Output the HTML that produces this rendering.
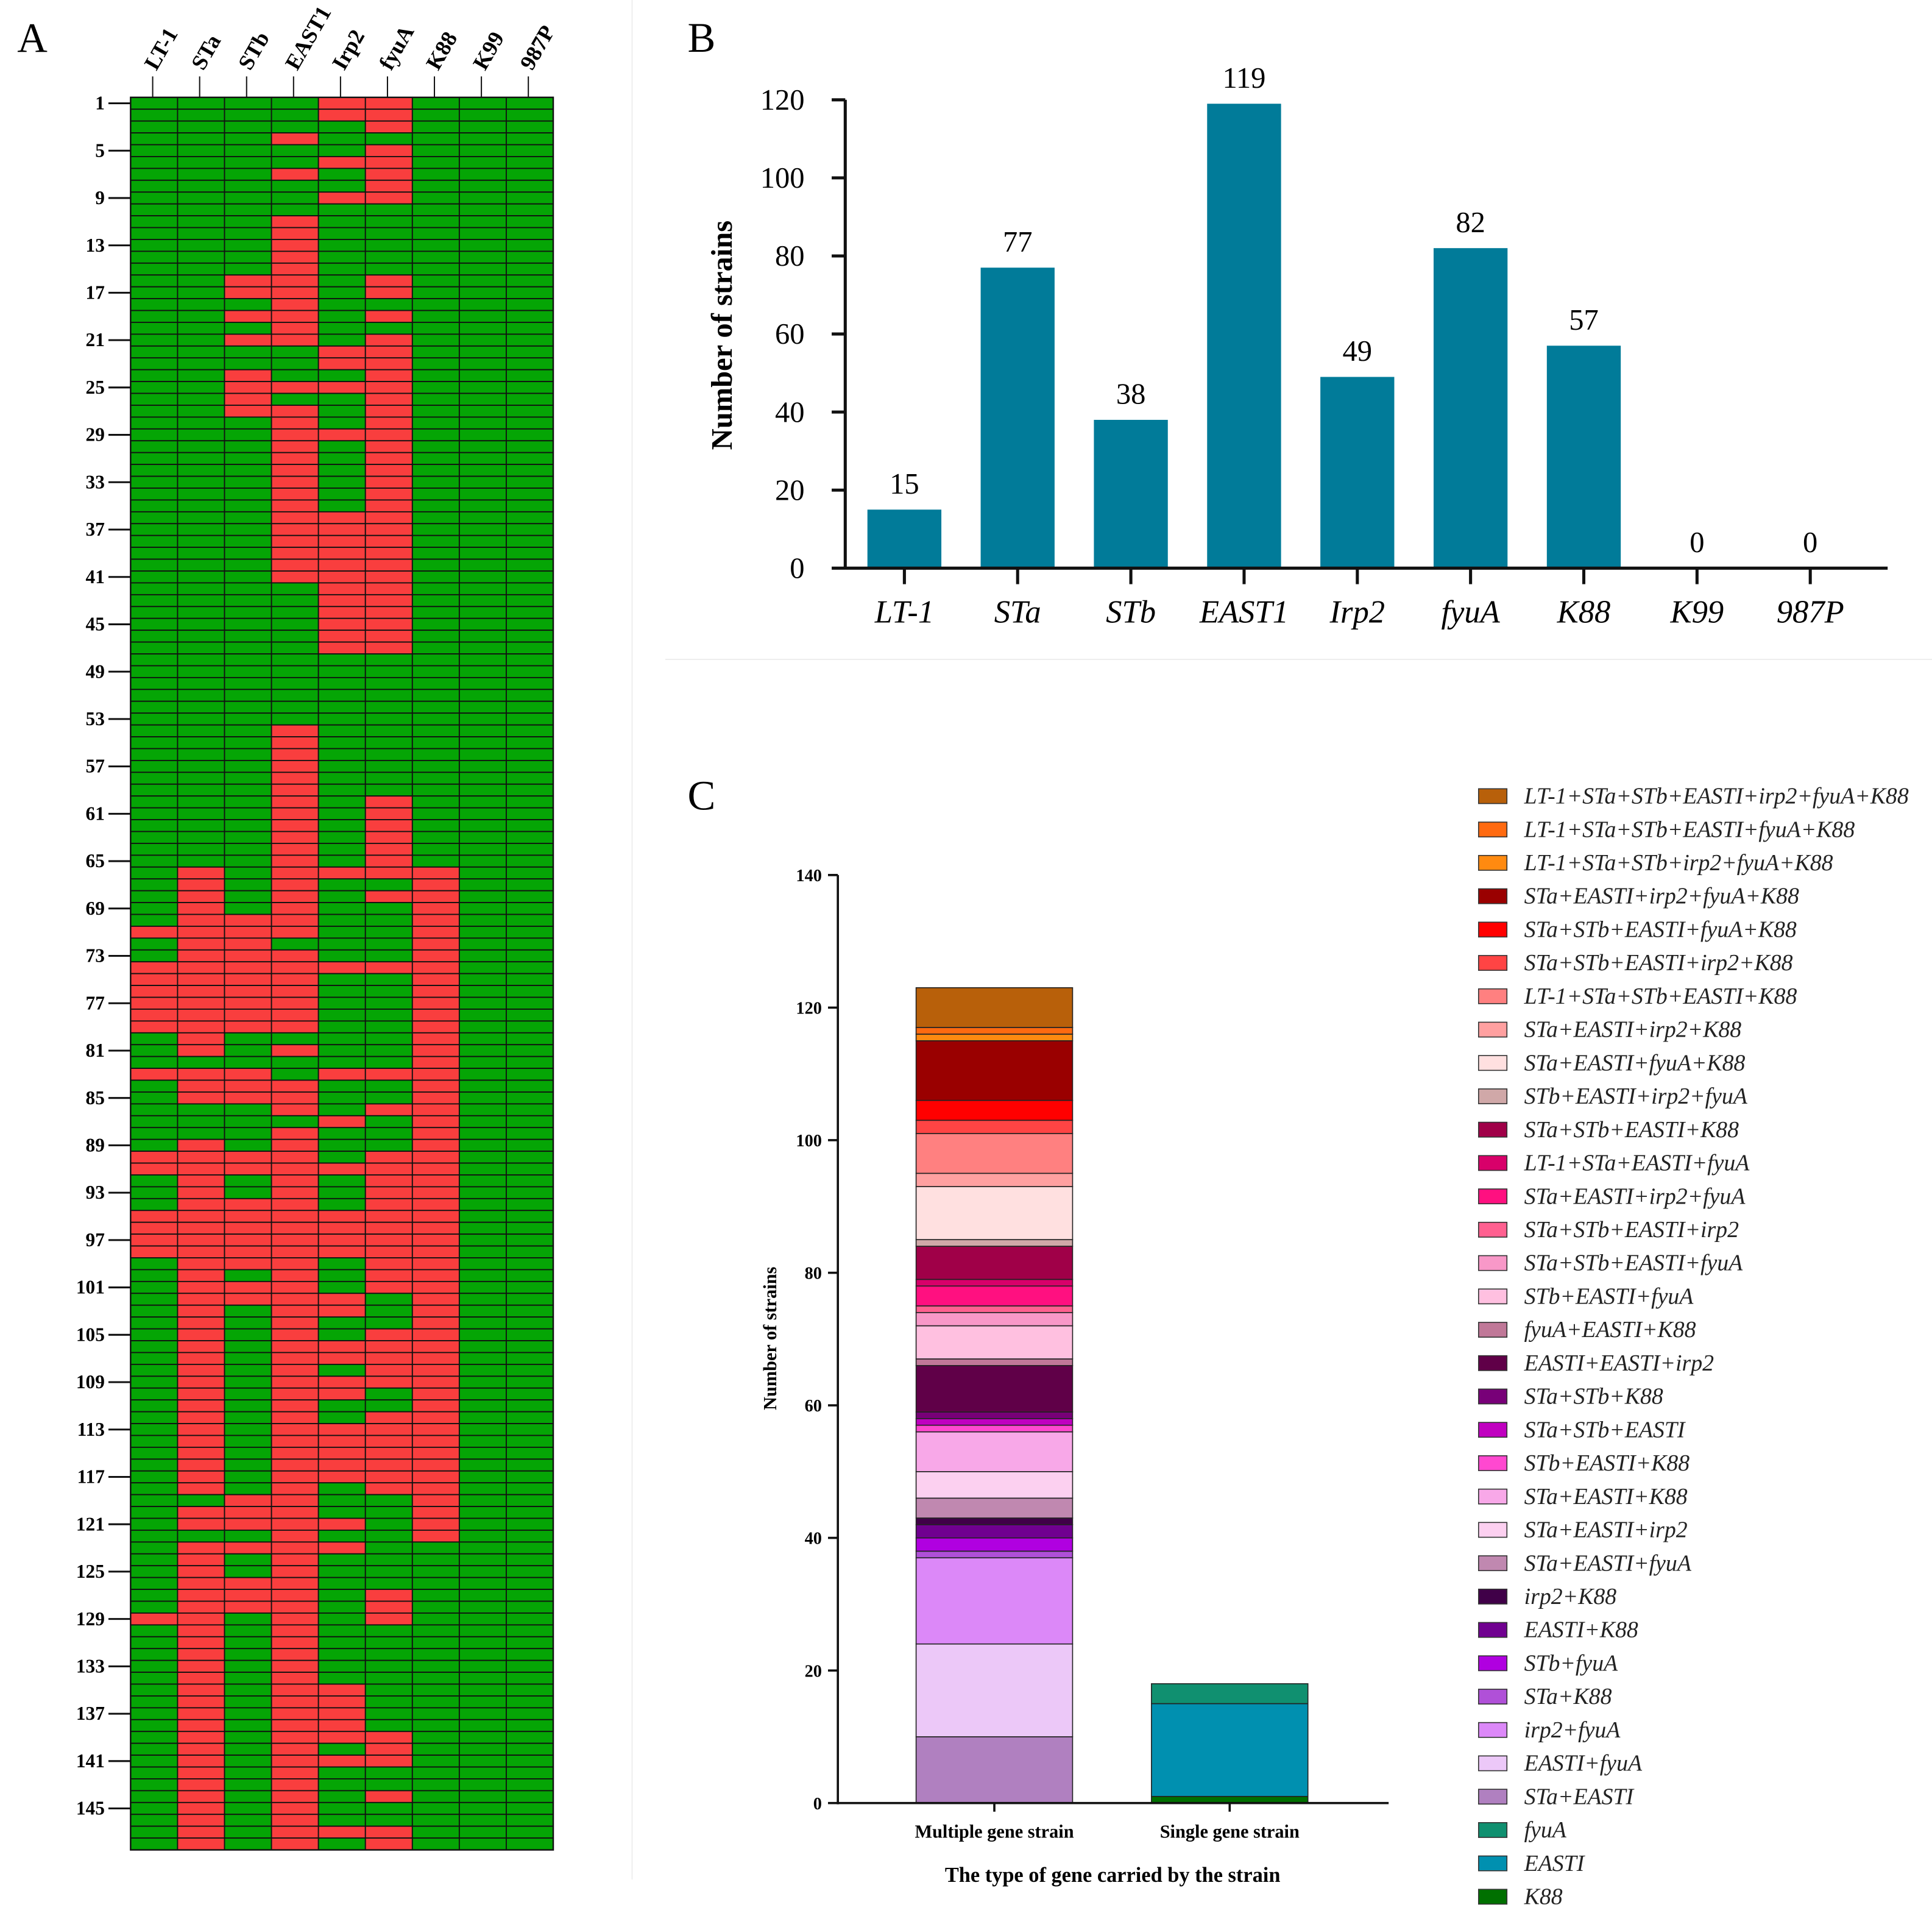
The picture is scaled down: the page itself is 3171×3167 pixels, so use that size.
<!DOCTYPE html>
<html><head><meta charset="utf-8"><style>
html,body{margin:0;padding:0;background:#fff}
svg{display:block}
text{font-family:"Liberation Serif",serif}
</style></head><body>
<svg id="fig" xmlns="http://www.w3.org/2000/svg" width="3171" height="3167" viewBox="0 0 1568 1566" preserveAspectRatio="none">
<line x1="513" y1="0" x2="513" y2="1525" stroke="#eeeeee" stroke-width="1"/>
<line x1="540" y1="535" x2="1568" y2="535" stroke="#eeeeee" stroke-width="1"/>
<text x="14" y="42" font-size="34">A</text>
<text x="558" y="42" font-size="34">B</text>
<text x="558" y="657" font-size="34">C</text>
<g id="heat"></g>
<g id="barB"></g>
<g id="stackC"></g>
</svg>
<script>
// ---------- Panel A data ----------
const heatGenes = ["LT-1","STa","STb","EAST1","Irp2","fyuA","K88","K99","987P"];
const heatRows = [
"000011000","000011000","000001000","000100000","000001000","000011000","000101000","000001000","000011000","000000000",
"000100000","000100000","000100000","000100000","000100000","001101000","001101000","000100000","001101000","000100000",
"001101000","000011000","000011000","001001000","001111000","001001000","001101000","000101000","000111000","000101000",
"000101000","000101000","000101000","000101000","000101000","000111000","000111000","000111000","000111000","000111000",
"000111000","000011000","000011000","000011000","000011000","000011000","000011000","000000000","000000000","000000000",
"000000000","000000000","000000000","000100000","000100000","000100000","000100000","000100000","000100000","000101000",
"000101000","000101000","000101000","000101000","000101000","010111100","010100100","010101100","010100100","011100100",
"111100100","011000100","011100100","111111100","111100100","111100100","111100100","111100100","111100100","010000100",
"010100100","000000100","111011100","011100100","011100100","000101100","000010100","000100100","010100100","111101100",
"111111100","010101100","010101100","011101100","111111100","111111100","111111100","111111100","011101100","010101100",
"011101100","011110100","010110100","010100100","010101100","010111100","010111100","010101100","010111100","010110100",
"010100100","010101100","010111100","010111100","010111100","010111100","010111100","010101100","001100100","011100100",
"011110100","000100100","011110000","010100000","010100000","011100000","011101000","011101000","110101000","010100000",
"010100000","010100000","010100000","010100000","010110000","010110000","010110000","010110000","010111000","010101000",
"010111000","010100000","010100000","010101000","010100000","010100000","010111000","010101000"];

// ---------- Panel B data ----------
const geneNames = ["LT-1","STa","STb","EAST1","Irp2","fyuA","K88","K99","987P"];
const geneCounts = [15,77,38,119,49,82,57,0,0];
const yTicksB = [0,20,40,60,80,100,120];

// ---------- Panel C data ----------
const stackCategories = ["Multiple gene strain","Single gene strain"];
const comboNames = ["LT-1+STa+STb+EASTI+irp2+fyuA+K88","LT-1+STa+STb+EASTI+fyuA+K88","LT-1+STa+STb+irp2+fyuA+K88","STa+EASTI+irp2+fyuA+K88","STa+STb+EASTI+fyuA+K88","STa+STb+EASTI+irp2+K88","LT-1+STa+STb+EASTI+K88","STa+EASTI+irp2+K88","STa+EASTI+fyuA+K88","STb+EASTI+irp2+fyuA","STa+STb+EASTI+K88","LT-1+STa+EASTI+fyuA","STa+EASTI+irp2+fyuA","STa+STb+EASTI+irp2","STa+STb+EASTI+fyuA","STb+EASTI+fyuA","fyuA+EASTI+K88","EASTI+EASTI+irp2","STa+STb+K88","STa+STb+EASTI","STb+EASTI+K88","STa+EASTI+K88","STa+EASTI+irp2","STa+EASTI+fyuA","irp2+K88","EASTI+K88","STb+fyuA","STa+K88","irp2+fyuA","EASTI+fyuA","STa+EASTI","fyuA","EASTI","K88"];
const multipleValues = [6,1,1,9,3,2,6,2,8,1,5,1,3,1,2,5,1,7,1,1,1,6,4,3,1,2,2,1,13,14,10,0,0,0];
const singleValues = [0,0,0,0,0,0,0,0,0,0,0,0,0,0,0,0,0,0,0,0,0,0,0,0,0,0,0,0,0,0,0,3,14,1];
const comboColors = ["#b8600a","#ff6a10","#ff8a10","#9a0000","#ff0000","#ff4444","#ff8080","#ffa0a0","#ffe0e0","#d0a8a8","#a00048","#d8006a","#ff1080","#ff6090","#f898c8","#ffc0e0","#c07898","#600048","#780078","#c000c0","#ff48d0","#f8a8e8","#fcd0f0","#c088b0","#400048","#700090","#b000e0","#b050d8","#dc88f8","#ecc8f8","#b080c0","#109070","#0090b0","#007000"];
const yTicksC = [0,20,40,60,80,100,120,140];

const NS = "http://www.w3.org/2000/svg";
function mk(tag, attrs, parent, txt){
  const e = document.createElementNS(NS, tag);
  for (const k in attrs) e.setAttribute(k, attrs[k]);
  if (txt !== undefined) e.textContent = txt;
  parent.appendChild(e);
  return e;
}

// ===== Panel A =====
(function(){
  const g = document.getElementById('heat');
  const x0 = 106, x1 = 449, y0 = 79, y1 = 1501;
  const cw = (x1 - x0) / heatGenes.length;
  const rh = (y1 - y0) / heatRows.length;
  const colX = i => x0 + i * cw;
  const rowY = r => y0 + r * rh;
  heatRows.forEach((row, r) => {
    for (let c = 0; c < heatGenes.length; c++) {
      const on = row[c] === '1';
      const cell = mk('rect', {x: colX(c), y: rowY(r), width: cw, height: rh, fill: on ? '#f93e3e' : '#05a505', stroke: '#111', 'stroke-width': 0.9}, g);
      
      
    }
  });
  const frame = mk('rect', {x: x0, y: y0, width: x1 - x0, height: y1 - y0, fill: 'none', stroke: '#111', 'stroke-width': 1.2}, g);
  
  
  heatGenes.forEach((name, c) => {
    const tx = colX(c) + cw * 0.47;
    const tk = mk('line', {x1: tx, y1: 62, x2: tx, y2: y0, stroke: '#111', 'stroke-width': 1}, g);
    
    
    const t = mk('text', {x: tx + 3, y: 58, 'font-size': 18, 'font-weight': 'bold', transform: `rotate(-60 ${tx + 3} 58)`}, g, name);
    
    
  });
  for (let r = 0; r < heatRows.length; r += 4) {
    const cy = rowY(r) + rh / 2;
    const tk = mk('line', {x1: 88, y1: cy, x2: x0, y2: cy, stroke: '#111', 'stroke-width': 1.5}, g);
    
    
    const t = mk('text', {x: 85, y: cy + 5, 'font-size': 15.5, 'font-weight': 'bold', 'text-anchor': 'end'}, g, String(r + 1));
    
    
  }
})();

// ===== Panel B =====
(function(){
  const g = document.getElementById('barB');
  const ax = 686, ay0 = 461, ayTop = 81, maxV = 120;
  const yS = v => ay0 - v / maxV * (ay0 - ayTop);
  const xC = i => 734 + i * 91.9;
  const bw = 60;
  yTicksB.forEach(v => {
    const tk = mk('line', {x1: 675, y1: yS(v), x2: ax, y2: yS(v), stroke: '#111', 'stroke-width': 2.5}, g);
    
    
    const t = mk('text', {x: 653, y: yS(v) + 8, 'font-size': 24, 'text-anchor': 'end'}, g, String(v));
    
    
  });
  geneCounts.forEach((v, i) => {
    const b = mk('rect', {x: xC(i) - bw / 2, y: yS(v), width: bw, height: ay0 - yS(v), fill: '#017b99'}, g);
    
    
    const vl = mk('text', {x: xC(i), y: yS(v) - 13, 'font-size': 24, 'text-anchor': 'middle'}, g, String(v));
    
    
    const tk = mk('line', {x1: xC(i), y1: ay0, x2: xC(i), y2: 474, stroke: '#111', 'stroke-width': 2.5}, g);
    
    
    const xl = mk('text', {x: xC(i), y: 505, 'font-size': 26, 'font-style': 'italic', 'text-anchor': 'middle'}, g, geneNames[i]);
    
    
  });
  const ya = mk('line', {x1: ax, y1: ayTop, x2: ax, y2: ay0 + 1, stroke: '#111', 'stroke-width': 2.5}, g);
  
  
  const xa = mk('line', {x1: ax, y1: ay0, x2: 1532, y2: ay0, stroke: '#111', 'stroke-width': 2.5}, g);
  
  
  const yt = mk('text', {x: 594, y: 272, 'font-size': 24, 'font-weight': 'bold', 'text-anchor': 'middle', transform: 'rotate(-90 594 272)'}, g, 'Number of strains');
  
  
})();

// ===== Panel C =====
(function(){
  const g = document.getElementById('stackC');
  const ax = 680, ay0 = 1463, ayTop = 710, maxV = 140;
  const yS = v => ay0 - v / maxV * (ay0 - ayTop);
  const xC = i => 807 + i * 191;
  const bw = 127;
  yTicksC.forEach(v => {
    const tk = mk('line', {x1: 672, y1: yS(v), x2: ax, y2: yS(v), stroke: '#111', 'stroke-width': 1.8}, g);
    
    
    const t = mk('text', {x: 667, y: yS(v) + 5, 'font-size': 14, 'font-weight': 'bold', 'text-anchor': 'end'}, g, String(v));
    
    
  });
  [multipleValues, singleValues].forEach((vals, ci) => {
    let cum = 0;
    for (let k = vals.length - 1; k >= 0; k--) {
      const v = vals[k];
      if (!v) continue;
      const r = mk('rect', {x: xC(ci) - bw / 2, y: yS(cum + v), width: bw, height: yS(cum) - yS(cum + v), fill: comboColors[k], stroke: '#222', 'stroke-width': 0.8}, g);
      
      
      cum += v;
    }
    const tk = mk('line', {x1: xC(ci), y1: ay0, x2: xC(ci), y2: ay0 + 7, stroke: '#111', 'stroke-width': 1.8}, g);
    
    
    const xl = mk('text', {x: xC(ci), y: 1491, 'font-size': 15, 'font-weight': 'bold', 'text-anchor': 'middle'}, g, stackCategories[ci]);
    
    
  });
  const ya = mk('line', {x1: ax, y1: ayTop, x2: ax, y2: ay0 + 1, stroke: '#111', 'stroke-width': 1.8}, g);
  
  
  const xa = mk('line', {x1: ax, y1: ay0, x2: 1127, y2: ay0, stroke: '#111', 'stroke-width': 1.8}, g);
  
  
  const yt = mk('text', {x: 630, y: 1086, 'font-size': 15, 'font-weight': 'bold', 'text-anchor': 'middle', transform: 'rotate(-90 630 1086)'}, g, 'Number of strains');
  
  
  const xt = mk('text', {x: 903, y: 1527, 'font-size': 17, 'font-weight': 'bold', 'text-anchor': 'middle'}, g, 'The type of gene carried by the strain');
  
  
  // legend
  const lg = mk('g', {}, g);
  
  
  const ly0 = 646, lstep = (1539 - 646) / (comboNames.length - 1);
  comboNames.forEach((name, k) => {
    const cy = ly0 + k * lstep;
    const sw = mk('rect', {x: 1200, y: cy - 6, width: 23, height: 12, fill: comboColors[k], stroke: '#333', 'stroke-width': 0.8}, lg);
    
    
    const t = mk('text', {x: 1237, y: cy + 6, 'font-size': 18.7, 'font-style': 'italic', fill: '#222'}, lg, name);
    
    
  });
})();
</script>
</body></html>
